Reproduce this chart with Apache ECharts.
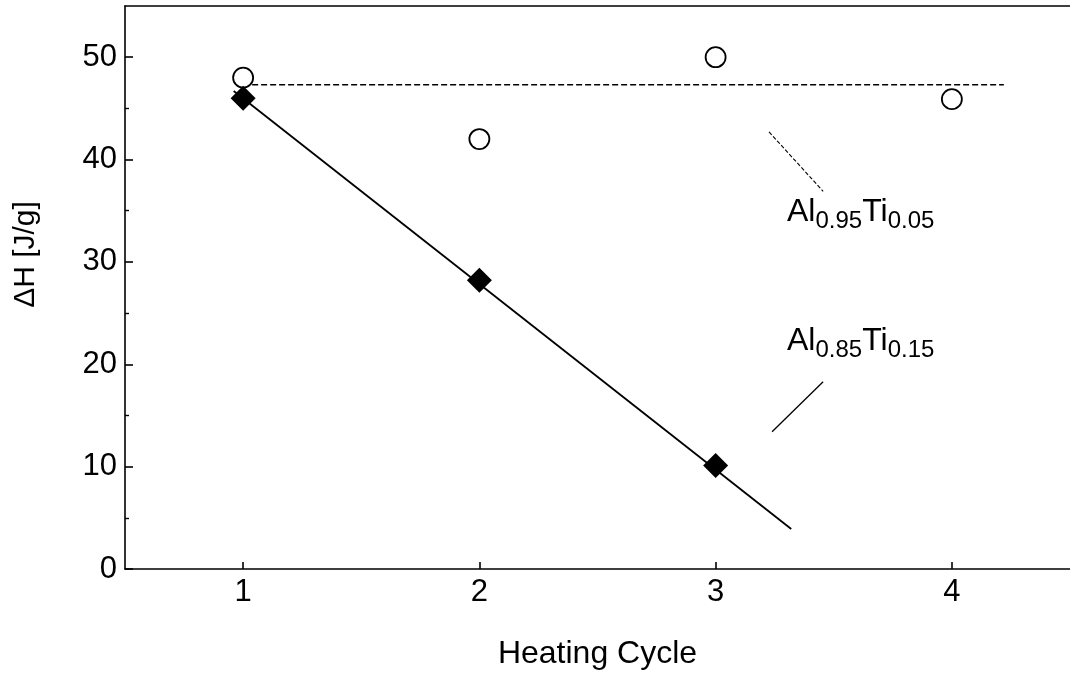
<!DOCTYPE html>
<html>
<head>
<meta charset="utf-8">
<script src="https://cdn.jsdelivr.net/npm/echarts@6/dist/echarts.min.js"></script>
<style>
  html, body { margin: 0; padding: 0; background: #fff; }
  #chart { width: 1070px; height: 677px; }
</style>
</head>
<body>
<div id="chart"></div>
<script>
// Heating cycle number and measured enthalpy (J/g)
const cycles = [1, 2, 3, 4];
const dH_Al095Ti005 = [48.0, 42.0, 50.0, 45.9];   // open circles
const cyclesB = [1, 2, 3];
const dH_Al085Ti015 = [46.0, 28.2, 10.1];         // filled diamonds

// Guide lines through each set: [cycle, ΔH] end points
const guide_Al095Ti005 = [[1.0, 47.3], [4.22, 47.3]];
const guide_Al085Ti015 = [[0.96, 46.7], [3.32, 3.9]];

// Leader lines from each composition label toward its data
const leader_Al095Ti005 = [[3.226, 42.7], [3.455, 36.9]];
const leader_Al085Ti015 = [[3.239, 13.4], [3.455, 18.3]];

// Composition subscripts [Al, Ti]
const alloyAl095 = ['0.95', '0.05'];
const alloyAl085 = ['0.85', '0.15'];

// Axis ticks
const xTicks = [1, 2, 3, 4];
const yTicks = [0, 10, 20, 30, 40, 50];
const yMinorTicks = [5, 15, 25, 35, 45];

const FONT = "'Liberation Sans', Arial, Helvetica, sans-serif";
const pair = (xs, ys) => xs.map((x, i) => [x, ys[i]]);
const formula = a => `{m|Al}{s|${a[0]}}{m|Ti}{s|${a[1]}}`;

const richFormula = {
  m: { fontSize: 32, fontFamily: FONT, color: '#000', verticalAlign: 'bottom', padding: [0, 0, 6, 0] },
  s: { fontSize: 24, fontFamily: FONT, color: '#000', verticalAlign: 'bottom' }
};

const chart = echarts.init(document.getElementById('chart'), null, { renderer: 'canvas' });

const axisLine = { show: true, onZero: false, lineStyle: { color: '#000', width: 1.6 } };

chart.setOption({
  animation: false,
  backgroundColor: '#fff',
  grid: { left: 125, right: 0, top: 6, bottom: 108, containLabel: false },
  xAxis: [
    {
      type: 'value', min: 0.5, max: 4.5, position: 'bottom',
      name: 'Heating Cycle', nameLocation: 'middle', nameGap: 69,
      nameTextStyle: { fontSize: 32, fontFamily: FONT, color: '#000' },
      axisLine: axisLine,
      axisTick: { show: true, inside: true, length: 7, customValues: xTicks, lineStyle: { color: '#000', width: 1.6 } },
      axisLabel: { show: true, customValues: xTicks, fontSize: 31, fontFamily: FONT, color: '#000', margin: 8 },
      splitLine: { show: false }
    },
    {
      type: 'value', min: 0.5, max: 4.5, position: 'top',
      axisLine: axisLine, axisTick: { show: false }, axisLabel: { show: false }, splitLine: { show: false }
    }
  ],
  yAxis: [
    {
      type: 'value', min: 0, max: 55, position: 'left',
      name: 'ΔH [J/g]', nameLocation: 'middle', nameGap: 84, nameRotate: 90,
      nameTextStyle: { fontSize: 30, fontFamily: FONT, color: '#000', padding: [0, 0, 0, 66] },
      axisLine: axisLine,
      axisTick: { show: true, inside: true, length: 8, customValues: yTicks, lineStyle: { color: '#000', width: 1.6 } },
      axisLabel: { show: true, customValues: yTicks, fontSize: 31, fontFamily: FONT, color: '#000', margin: 8 },
      splitLine: { show: false }
    },
    {
      type: 'value', min: 0, max: 55, position: 'left', offset: 0,
      axisLine: { show: false, onZero: false },
      axisTick: { show: true, inside: true, length: 4, customValues: yMinorTicks, lineStyle: { color: '#000', width: 1.4 } },
      axisLabel: { show: false },
      splitLine: { show: false }
    }
  ],
  series: [
    {
      name: 'guide Al0.95Ti0.05', type: 'line', data: guide_Al095Ti005,
      symbol: 'none', lineStyle: { color: '#000', width: 1.4, type: [6, 3] }, z: 1
    },
    {
      name: 'guide Al0.85Ti0.15', type: 'line', data: guide_Al085Ti015,
      symbol: 'none', lineStyle: { color: '#000', width: 1.8 }, z: 1
    },
    {
      name: 'leader Al0.95Ti0.05', type: 'line', data: leader_Al095Ti005,
      symbol: 'none', lineStyle: { color: '#000', width: 1.1, type: [4, 2] }, z: 1
    },
    {
      name: 'leader Al0.85Ti0.15', type: 'line', data: leader_Al085Ti015,
      symbol: 'none', lineStyle: { color: '#000', width: 1.3 }, z: 1
    },
    {
      name: 'Al0.95Ti0.05', type: 'scatter', data: pair(cycles, dH_Al095Ti005),
      symbol: 'circle', symbolSize: 20,
      itemStyle: { color: '#fff', borderColor: '#000', borderWidth: 1.8, opacity: 1 }, z: 3
    },
    {
      name: 'Al0.85Ti0.15', type: 'scatter', data: pair(cyclesB, dH_Al085Ti015),
      symbol: 'diamond', symbolSize: 25,
      itemStyle: { color: '#000', opacity: 1 }, z: 4
    },
    {
      name: 'labels', type: 'scatter', symbolSize: 1, silent: true,
      itemStyle: { color: 'rgba(0,0,0,0)', opacity: 1 },
      data: [
        { value: [3.30, 34.6], label: { formatter: formula(alloyAl095) } },
        { value: [3.30, 22.0], label: { formatter: formula(alloyAl085) } }
      ],
      label: { show: true, position: 'right', distance: 0, align: 'left', verticalAlign: 'middle', color: '#000', rich: richFormula },
      z: 5
    }
  ]
});
</script>
</body>
</html>
